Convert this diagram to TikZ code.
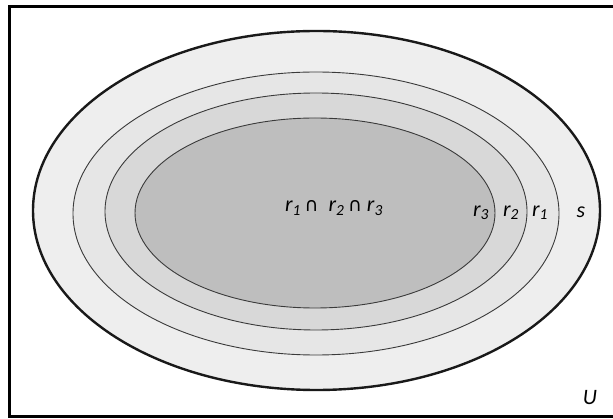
\documentclass[tikz,border=0pt]{standalone}
\usepackage{fontspec}
\setmainfont{Carlito}
\newfontfamily\dvfont{DejaVu Sans}
\usetikzlibrary{shapes.geometric}
\definecolor{fs}{HTML}{EEEEEE}
\definecolor{fra}{HTML}{E6E6E6}
\definecolor{frb}{HTML}{D8D8D8}
\definecolor{frc}{HTML}{BEBEBE}
\definecolor{edge}{HTML}{3A3A3A}
\tikzset{
  outerline/.style={line width=2.4pt, draw=black!90},
  innerline/.style={line width=0.9pt, draw=edge},
  lbl/.style={font=\fontsize{22}{26}\selectfont\itshape, inner sep=0pt, text=black},
}
\newcommand{\capsym}{{\dvfont\upshape\fontsize{19}{22}\selectfont ∩}}
\begin{document}
\begin{tikzpicture}[x=1pt,y=-1pt]
\useasboundingbox (0,0) rectangle (613,419);
\fill[white] (0,0) rectangle (613,419);
\draw[line width=3pt] (9,6.5) rectangle (625,416);
\draw[outerline, fill=fs] (316.5,210.5) ellipse [x radius=283.5, y radius=179.5];
\draw[innerline, fill=fra] (316,213.5) ellipse [x radius=243, y radius=141.5];
\draw[innerline, fill=frb] (316,211.5) ellipse [x radius=211, y radius=118.5];
\draw[innerline, fill=frc] (315,213) ellipse [x radius=180, y radius=95];
\node[lbl] (cap) at (334,208) {r\textsubscript{1}\,\capsym\ \ r\textsubscript{2}\,\capsym\ r\textsubscript{3}};
\node[lbl] (r3) at (481,213) {r\textsubscript{3}};
\node[lbl] (r2) at (511,213) {r\textsubscript{2}};
\node[lbl] (r1) at (540,213) {r\textsubscript{1}};
\node[lbl] (s) at (581,212) {s};
\node[lbl] (U) at (590,398) {U};
\end{tikzpicture}
\end{document}
